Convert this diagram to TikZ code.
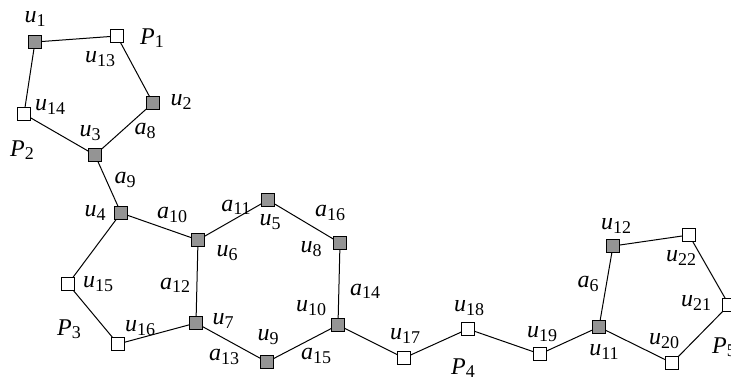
\documentclass[tikz,border=0pt]{standalone}
\usepackage{fontspec}
\setmainfont{Liberation Serif}
\usetikzlibrary{positioning}

\newcommand{\sym}[2]{\textit{#1}\raisebox{-0.3ex}{\fontsize{18}{18}\selectfont #2}}

\tikzset{
  vtx/.style={draw, line width=0.9pt, minimum size=12.5pt, inner sep=0pt},
  hub/.style={vtx, fill=black!42},
  leaf/.style={vtx, fill=white},
  lab/.style={font=\fontsize{24}{26}\selectfont, inner sep=0pt},
  link/.style={line width=1pt},
}

\begin{document}
\begin{tikzpicture}[x=1pt,y=-1pt]
  \useasboundingbox (0,0) rectangle (731,376);
  % gray vertices
  \foreach \n/\x/\y in {u1/35/42, u2/153/103, u3/95/155, u4/121/213, u5/268/200,
      u6/198/240, u7/196/323, u8/340/243, u9/267/362, u10/338/325, u11/599/327,
      u12/613/246} {
    \node[hub] (\n) at (\x,\y) {}; }
  % white vertices
  \foreach \n/\x/\y in {u13/117/36, u14/24/114, u15/68/284, u16/118/344,
      u17/404/358, u18/468/329, u19/540/354, u20/672/363, u21/729/305,
      u22/689/235} {
    \node[leaf] (\n) at (\x,\y) {}; }
  % edges
  \foreach \a/\b in {u1/u13, u13/u2, u2/u3, u3/u14, u14/u1, u3/u4,
      u4/u6, u4/u15, u15/u16, u16/u7, u7/u6, u6/u5, u5/u8, u8/u10,
      u10/u9, u9/u7, u10/u17, u17/u18, u18/u19, u19/u11,
      u11/u12, u12/u22, u22/u21, u21/u20, u20/u11} {
    \draw[link] (\a) -- (\b); }
  % vertex labels
  \foreach \n/\i/\x/\y in {u1/1/35/19, u13/13/100/59, u2/2/181/102, u14/14/50/107,
      u3/3/90/133, u4/4/95/213, u5/5/270/222, u6/6/227/253, u7/7/223/321,
      u8/8/311/249, u9/9/268/337, u10/10/311/308, u11/11/604/352, u12/12/616/226,
      u15/15/98/284, u16/16/140/328, u17/17/405/336, u18/18/469/308,
      u19/19/542/334, u20/20/664/341, u21/21/696/303, u22/22/681/258} {
    \node[lab] (l\n) at (\x,\y) {\sym{u}{\i}}; }
  % edge labels
  \foreach \n/\i/\x/\y in {a8/8/145/131, a9/9/125/180, a10/10/172/215, a11/11/236/207,
      a12/12/175/285, a13/13/224/357, a14/14/365/291, a15/15/316/356,
      a16/16/330/213, a6/6/588/284} {
    \node[lab] (l\n) at (\x,\y) {\sym{a}{\i}}; }
  % block names
  \foreach \n/\i/\x/\y in {P1/1/152/38, P2/2/22/150, P3/3/69/329, P4/4/463/368,
      P5/5/724/347} {
    \node[lab] (l\n) at (\x,\y) {\sym{P}{\i}}; }
\end{tikzpicture}
\end{document}
